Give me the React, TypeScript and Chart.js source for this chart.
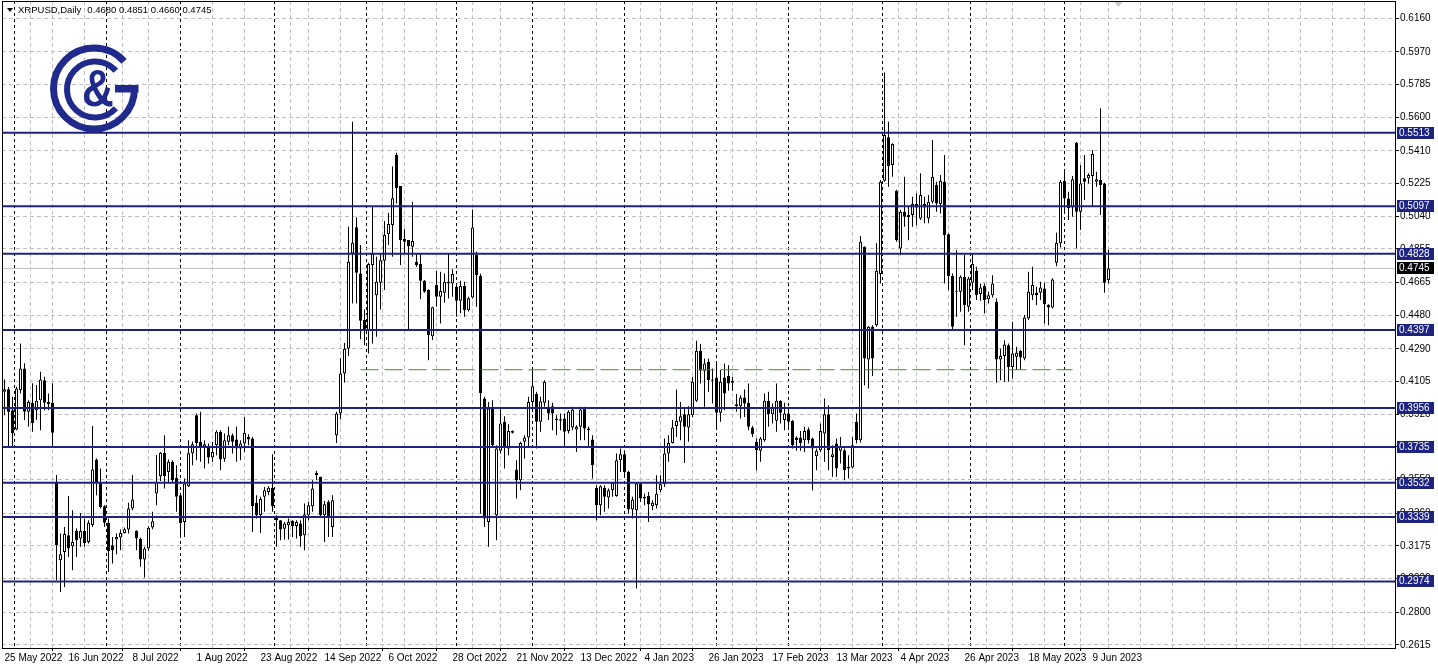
import React, { useEffect, useRef } from "react";
import { Chart, registerables } from "chart.js";

Chart.register(...registerables);

// ---------------- data (XRPUSD daily, weekday bars from 25 May 2022) ----------------
const START_DATE = "2022-05-25";

const OPEN = [
  0.4047, 0.4061, 0.3943, 0.3834, 0.4057, 0.4179, 0.3934, 0.3985, 0.3943, 0.4000,
  0.4113, 0.3990, 0.3985, 0.3538, 0.3094, 0.3141, 0.3236, 0.3174, 0.3260, 0.3217,
  0.3259, 0.3198, 0.3293, 0.3664, 0.3532, 0.3400, 0.3306, 0.3179, 0.3212, 0.3223,
  0.3249, 0.3268, 0.3387, 0.3259, 0.3215, 0.3098, 0.3161, 0.3279, 0.3472, 0.3570,
  0.3702, 0.3594, 0.3651, 0.3560, 0.3462, 0.3311, 0.3513, 0.3700, 0.3915, 0.3764,
  0.3736, 0.3736, 0.3675, 0.3745, 0.3821, 0.3668, 0.3764, 0.3802, 0.3777, 0.3726,
  0.3755, 0.3792, 0.3783, 0.3420, 0.3350, 0.3453, 0.3481, 0.3505, 0.3343, 0.3320,
  0.3273, 0.3292, 0.3317, 0.3288, 0.3302, 0.3236, 0.3349, 0.3400, 0.3588, 0.3566,
  0.3349, 0.3424, 0.3283, 0.3802, 0.3925, 0.4150, 0.4290, 0.4830, 0.4978, 0.4717,
  0.4453, 0.4396, 0.4764, 0.4594, 0.4664, 0.4788, 0.4939, 0.4991, 0.5387, 0.5211,
  0.4911, 0.4906, 0.4868, 0.4783, 0.4770, 0.4675, 0.4623, 0.4362, 0.4651, 0.4585,
  0.4607, 0.4670, 0.4660, 0.4641, 0.4562, 0.4645, 0.4509, 0.4581, 0.4821, 0.4702,
  0.4009, 0.3311, 0.3953, 0.3349, 0.3713, 0.3877, 0.3726, 0.3826, 0.3607, 0.3547,
  0.3764, 0.3788, 0.3990, 0.4034, 0.3877, 0.3985, 0.3962, 0.3966, 0.3896, 0.3892,
  0.3896, 0.3826, 0.3845, 0.3834, 0.3849, 0.3953, 0.3840, 0.3777, 0.3505, 0.3405,
  0.3505, 0.3449, 0.3490, 0.3457, 0.3660, 0.3694, 0.3594, 0.3381, 0.3377, 0.3528,
  0.3453, 0.3457, 0.3400, 0.3405, 0.3490, 0.3524, 0.3698, 0.3758, 0.3853, 0.3877,
  0.3920, 0.3845, 0.3915, 0.3996, 0.4279, 0.4166, 0.4217, 0.4117, 0.4128, 0.3928,
  0.4128, 0.4136, 0.4098, 0.3977, 0.3966, 0.4015, 0.3985, 0.3845, 0.3764, 0.3713,
  0.3773, 0.3996, 0.3920, 0.3883, 0.3996, 0.3887, 0.3924, 0.3883, 0.3788, 0.3788,
  0.3773, 0.3834, 0.3783, 0.3683, 0.3717, 0.3811, 0.3920, 0.3679, 0.3754, 0.3713,
  0.3717, 0.3613, 0.3619, 0.3877, 0.3773, 0.4868, 0.4230, 0.4415, 0.4424, 0.4713,
  0.5241, 0.5487, 0.5330, 0.5185, 0.4858, 0.5066, 0.5047, 0.5047, 0.5109, 0.5028,
  0.5109, 0.5028, 0.5122, 0.5217, 0.5109, 0.5236, 0.4939, 0.4702, 0.4613, 0.4613,
  0.4698, 0.4528, 0.4664, 0.4732, 0.4600, 0.4645, 0.4570, 0.4594, 0.4556, 0.4230,
  0.4249, 0.4311, 0.4188, 0.4245, 0.4279, 0.4236, 0.4462, 0.4594, 0.4607, 0.4607,
  0.4632, 0.4538, 0.4524, 0.4777, 0.4887, 0.5241, 0.5141, 0.5090, 0.5456, 0.5066,
  0.5255, 0.5255, 0.5268, 0.5236, 0.5245, 0.5226, 0.4680,
];

const HIGH = [
  0.4117, 0.4074, 0.4019, 0.4075, 0.4321, 0.4208, 0.4000, 0.4095, 0.4085, 0.4160,
  0.4132, 0.4038, 0.4095, 0.3576, 0.3245, 0.3283, 0.3457, 0.3377, 0.3274, 0.3362,
  0.3330, 0.3321, 0.3853, 0.3670, 0.3613, 0.3406, 0.3330, 0.3226, 0.3245, 0.3268,
  0.3279, 0.3419, 0.3576, 0.3264, 0.3223, 0.3170, 0.3287, 0.3368, 0.3689, 0.3707,
  0.3802, 0.3664, 0.3660, 0.3632, 0.3471, 0.3556, 0.3773, 0.3764, 0.3924, 0.3934,
  0.3773, 0.3755, 0.3764, 0.3830, 0.3830, 0.3811, 0.3849, 0.3811, 0.3849, 0.3773,
  0.3905, 0.3807, 0.3792, 0.3462, 0.3453, 0.3509, 0.3513, 0.3694, 0.3349, 0.3320,
  0.3311, 0.3330, 0.3320, 0.3320, 0.3320, 0.3415, 0.3424, 0.3547, 0.3600, 0.3566,
  0.3430, 0.3434, 0.3462, 0.3934, 0.4238, 0.4323, 0.4981, 0.5575, 0.5034, 0.4877,
  0.4513, 0.4777, 0.5094, 0.4811, 0.4830, 0.5013, 0.5060, 0.5321, 0.5400, 0.5211,
  0.4966, 0.4906, 0.5122, 0.4830, 0.4830, 0.4679, 0.4627, 0.4528, 0.4730, 0.4726,
  0.4717, 0.4830, 0.4740, 0.4660, 0.4675, 0.4670, 0.4585, 0.5079, 0.4839, 0.4715,
  0.4019, 0.3990, 0.4000, 0.3745, 0.3962, 0.3909, 0.3864, 0.3830, 0.3660, 0.3764,
  0.3802, 0.4019, 0.4179, 0.4047, 0.4019, 0.4113, 0.4000, 0.3985, 0.3915, 0.3924,
  0.3924, 0.3943, 0.3962, 0.3858, 0.3962, 0.3962, 0.3849, 0.3802, 0.3519, 0.3519,
  0.3519, 0.3500, 0.3537, 0.3698, 0.3726, 0.3717, 0.3600, 0.3453, 0.3537, 0.3537,
  0.3471, 0.3481, 0.3434, 0.3575, 0.3575, 0.3783, 0.3802, 0.3887, 0.4060, 0.3990,
  0.3953, 0.3966, 0.4132, 0.4336, 0.4317, 0.4236, 0.4236, 0.4179, 0.4222, 0.4170,
  0.4207, 0.4198, 0.4132, 0.4034, 0.4028, 0.4060, 0.4094, 0.3853, 0.3783, 0.3792,
  0.4037, 0.4047, 0.3981, 0.4094, 0.4000, 0.3985, 0.3943, 0.3887, 0.3796, 0.3826,
  0.3849, 0.3845, 0.3788, 0.3726, 0.3868, 0.4009, 0.3971, 0.3745, 0.3783, 0.3792,
  0.3726, 0.3688, 0.3792, 0.3924, 0.4928, 0.4870, 0.4420, 0.4424, 0.4887, 0.5245,
  0.5853, 0.5575, 0.5453, 0.5190, 0.5075, 0.5264, 0.5094, 0.5151, 0.5170, 0.5283,
  0.5151, 0.5160, 0.5471, 0.5236, 0.5273, 0.5387, 0.4943, 0.4717, 0.4849, 0.4707,
  0.4821, 0.4698, 0.4830, 0.4754, 0.4660, 0.4660, 0.4613, 0.4707, 0.4575, 0.4292,
  0.4339, 0.4320, 0.4443, 0.4302, 0.4283, 0.4481, 0.4726, 0.4755, 0.4641, 0.4670,
  0.4664, 0.4543, 0.4690, 0.4947, 0.5245, 0.5292, 0.5179, 0.5268, 0.5460, 0.5330,
  0.5387, 0.5283, 0.5415, 0.5292, 0.5651, 0.5230, 0.4851,
];

const LOW = [
  0.3915, 0.3736, 0.3736, 0.3830, 0.4038, 0.3887, 0.3849, 0.3821, 0.3887, 0.3830,
  0.3943, 0.3943, 0.3736, 0.2981, 0.2915, 0.2943, 0.3113, 0.3038, 0.3113, 0.3170,
  0.3170, 0.3189, 0.3283, 0.3462, 0.3387, 0.3283, 0.3028, 0.3076, 0.3128, 0.3151,
  0.3245, 0.3245, 0.3377, 0.3151, 0.3057, 0.2997, 0.3147, 0.3270, 0.3406, 0.3543,
  0.3500, 0.3528, 0.3537, 0.3368, 0.3236, 0.3226, 0.3509, 0.3632, 0.3660, 0.3651,
  0.3613, 0.3641, 0.3651, 0.3688, 0.3604, 0.3651, 0.3745, 0.3698, 0.3651, 0.3660,
  0.3707, 0.3745, 0.3254, 0.3330, 0.3249, 0.3368, 0.3462, 0.3368, 0.3170, 0.3207,
  0.3211, 0.3211, 0.3226, 0.3217, 0.3170, 0.3151, 0.3320, 0.3368, 0.3547, 0.3339,
  0.3198, 0.3226, 0.3226, 0.3757, 0.3890, 0.4100, 0.4250, 0.4547, 0.4547, 0.4344,
  0.4311, 0.4264, 0.4321, 0.4358, 0.4513, 0.4623, 0.4877, 0.4811, 0.5113, 0.4764,
  0.4830, 0.4396, 0.4811, 0.4754, 0.4570, 0.4607, 0.4226, 0.4340, 0.4528, 0.4434,
  0.4551, 0.4575, 0.4585, 0.4471, 0.4491, 0.4471, 0.4502, 0.4576, 0.4528, 0.3358,
  0.3283, 0.3170, 0.3736, 0.3207, 0.3698, 0.3613, 0.3688, 0.3811, 0.3443, 0.3490,
  0.3670, 0.3736, 0.3962, 0.3726, 0.3821, 0.3962, 0.3887, 0.3830, 0.3802, 0.3830,
  0.3736, 0.3811, 0.3830, 0.3707, 0.3773, 0.3773, 0.3736, 0.3556, 0.3321, 0.3349,
  0.3368, 0.3387, 0.3453, 0.3453, 0.3594, 0.3575, 0.3358, 0.3330, 0.2934, 0.3424,
  0.3405, 0.3311, 0.3377, 0.3387, 0.3480, 0.3509, 0.3651, 0.3754, 0.3792, 0.3773,
  0.3645, 0.3764, 0.3905, 0.3990, 0.4094, 0.3962, 0.4047, 0.3981, 0.3834, 0.3877,
  0.3943, 0.4053, 0.4053, 0.3934, 0.3896, 0.3905, 0.3830, 0.3792, 0.3603, 0.3651,
  0.3764, 0.3849, 0.3868, 0.3821, 0.3868, 0.3830, 0.3849, 0.3726, 0.3713, 0.3713,
  0.3707, 0.3754, 0.3490, 0.3603, 0.3707, 0.3651, 0.3603, 0.3566, 0.3566, 0.3641,
  0.3547, 0.3556, 0.3613, 0.3754, 0.3760, 0.4084, 0.4066, 0.4136, 0.4415, 0.4660,
  0.5236, 0.5207, 0.5264, 0.4896, 0.4820, 0.4981, 0.4905, 0.4981, 0.4990, 0.5019,
  0.5000, 0.5000, 0.5113, 0.5066, 0.5056, 0.4660, 0.4622, 0.4396, 0.4471, 0.4500,
  0.4311, 0.4500, 0.4622, 0.4566, 0.4562, 0.4490, 0.4547, 0.4581, 0.4098, 0.4113,
  0.4104, 0.4104, 0.4122, 0.4170, 0.4170, 0.4226, 0.4453, 0.4566, 0.4537, 0.4566,
  0.4434, 0.4424, 0.4519, 0.4758, 0.4864, 0.5056, 0.5019, 0.5038, 0.4858, 0.4962,
  0.5132, 0.5226, 0.5094, 0.5207, 0.5047, 0.4607, 0.4660,
];

const CLOSE = [
  0.4062, 0.3934, 0.3812, 0.4066, 0.4179, 0.3934, 0.3990, 0.3871, 0.3996, 0.4117,
  0.3985, 0.3977, 0.3815, 0.3179, 0.3128, 0.3242, 0.3161, 0.3198, 0.3208, 0.3259,
  0.3192, 0.3306, 0.3608, 0.3532, 0.3396, 0.3306, 0.3147, 0.3151, 0.3226, 0.3249,
  0.3270, 0.3387, 0.3438, 0.3217, 0.3098, 0.3161, 0.3277, 0.3315, 0.3538, 0.3702,
  0.3570, 0.3651, 0.3547, 0.3453, 0.3305, 0.3528, 0.3700, 0.3750, 0.3758, 0.3739,
  0.3750, 0.3675, 0.3707, 0.3821, 0.3664, 0.3773, 0.3802, 0.3764, 0.3726, 0.3755,
  0.3815, 0.3777, 0.3400, 0.3350, 0.3440, 0.3490, 0.3505, 0.3400, 0.3320, 0.3268,
  0.3302, 0.3311, 0.3288, 0.3311, 0.3230, 0.3353, 0.3405, 0.3500, 0.3575, 0.3349,
  0.3411, 0.3339, 0.3434, 0.3925, 0.4150, 0.4290, 0.4783, 0.4891, 0.4721, 0.4449,
  0.4396, 0.4770, 0.4826, 0.4670, 0.4792, 0.4934, 0.4996, 0.5142, 0.5198, 0.4906,
  0.4896, 0.4872, 0.4900, 0.4764, 0.4675, 0.4613, 0.4368, 0.4525, 0.4585, 0.4617,
  0.4670, 0.4660, 0.4713, 0.4562, 0.4645, 0.4509, 0.4576, 0.4977, 0.4707, 0.4041,
  0.3330, 0.3953, 0.3745, 0.3726, 0.3868, 0.3736, 0.3826, 0.3815, 0.3547, 0.3758,
  0.3788, 0.3990, 0.4079, 0.3877, 0.3994, 0.4104, 0.3924, 0.3924, 0.3887, 0.3883,
  0.3821, 0.3934, 0.3947, 0.3849, 0.3947, 0.3840, 0.3830, 0.3632, 0.3405, 0.3513,
  0.3453, 0.3490, 0.3532, 0.3660, 0.3694, 0.3594, 0.3381, 0.3438, 0.3528, 0.3443,
  0.3443, 0.3411, 0.3419, 0.3471, 0.3524, 0.3698, 0.3758, 0.3845, 0.3883, 0.3909,
  0.3849, 0.3920, 0.4104, 0.4279, 0.4166, 0.4207, 0.4113, 0.4109, 0.3928, 0.4104,
  0.4037, 0.4094, 0.4109, 0.3966, 0.4015, 0.3981, 0.3849, 0.3807, 0.3717, 0.3783,
  0.3996, 0.3920, 0.3958, 0.3996, 0.3928, 0.3924, 0.3877, 0.3745, 0.3773, 0.3758,
  0.3826, 0.3773, 0.3726, 0.3713, 0.3826, 0.3920, 0.3717, 0.3694, 0.3613, 0.3739,
  0.3603, 0.3622, 0.3745, 0.3773, 0.4896, 0.4236, 0.4415, 0.4236, 0.4732, 0.5236,
  0.5500, 0.5324, 0.5449, 0.4905, 0.5066, 0.5038, 0.5034, 0.5109, 0.5090, 0.5160,
  0.5090, 0.5122, 0.5264, 0.5113, 0.5241, 0.4934, 0.4702, 0.4415, 0.4619, 0.4698,
  0.4538, 0.4688, 0.4770, 0.4594, 0.4637, 0.4566, 0.4594, 0.4660, 0.4230, 0.4249,
  0.4315, 0.4188, 0.4264, 0.4268, 0.4241, 0.4468, 0.4613, 0.4651, 0.4594, 0.4637,
  0.4543, 0.4524, 0.4683, 0.4890, 0.5236, 0.5141, 0.5085, 0.5249, 0.5066, 0.5226,
  0.5236, 0.5273, 0.5392, 0.5249, 0.5217, 0.4664, 0.4745,
];

// date tick labels (every 16 bars)
const DATE_LABELS = [
  "25 May 2022", "16 Jun 2022", "8 Jul 2022", "1 Aug 2022", "23 Aug 2022", "14 Sep 2022",
  "6 Oct 2022", "28 Oct 2022", "21 Nov 2022", "13 Dec 2022", "4 Jan 2023", "26 Jan 2023",
  "17 Feb 2023", "13 Mar 2023", "4 Apr 2023", "26 Apr 2023", "18 May 2023", "9 Jun 2023",
];
const LABEL_STEP = 16;
const GRID_STEP = 8;

// price axis tick labels
const Y_TICKS = [
  0.6160, 0.5970, 0.5785, 0.5600, 0.5410, 0.5225, 0.5040, 0.4855, 0.4665, 0.4480,
  0.4290, 0.4105, 0.3920, 0.3735, 0.3550, 0.3360, 0.3175, 0.2990, 0.2800, 0.2615,
];

// horizontal support / resistance levels
const LEVELS = [0.5513, 0.5097, 0.4828, 0.4397, 0.3956, 0.3735, 0.3532, 0.3339, 0.2974];
const CURRENT_PRICE = 0.4745;
const SUPPORT_VALUE = 0.4172;
const SUPPORT_FROM_BAR = 89;
const SUPPORT_TO_BAR = 267;

const SYMBOL_TITLE = "XRPUSD,Daily";
const TITLE_VALUES = "0.4680 0.4851 0.4660 0.4745";

// axis ranges
const Y_MIN = 0.25978;
const Y_MAX = 0.62579;
const X_MIN = -0.625;
const X_MAX = 347.625;

// ---------------- styles ----------------
const FONT = "'Liberation Sans', Arial, sans-serif";
const NAVY = "#1c2380";
const LOGO = "#1f2a8c";
const GRID = "#c0c0c0";
const GREEN = "#3f9412";

function weekdayDates(start: string, n: number): Date[] {
  const out: Date[] = [];
  const d = new Date(start + "T00:00:00Z");
  while (out.length < n) {
    const wd = d.getUTCDay();
    if (wd !== 0 && wd !== 6) out.push(new Date(d.getTime()));
    d.setUTCDate(d.getUTCDate() + 1);
  }
  return out;
}

const BAR_DATES = weekdayDates(START_DATE, OPEN.length);
const MONTH_STARTS: number[] = [];
for (let i = 1; i < BAR_DATES.length; i++) {
  if (BAR_DATES[i].getUTCMonth() !== BAR_DATES[i - 1].getUTCMonth()) MONTH_STARTS.push(i);
}
const MONTH_SET = new Set(MONTH_STARTS);
const GRID_TICKS: number[] = [];
for (let v = 0; v <= X_MAX; v += GRID_STEP) GRID_TICKS.push(v);
const X_TICKS = Array.from(new Set([...GRID_TICKS, ...MONTH_STARTS])).sort((a, b) => a - b);

function isLabelTick(v: number) {
  return v % LABEL_STEP === 0 && v / LABEL_STEP < DATE_LABELS.length;
}

const decorPlugin = {
  id: "decor",
  afterDraw(chart: any) {
    const { ctx, chartArea: ca, scales } = chart;
    const ys = scales.y;
    const xs = scales.x;
    ctx.save();
    ctx.setLineDash([]);

    // frame
    ctx.strokeStyle = "#000";
    ctx.lineWidth = 1;
    ctx.strokeRect(ca.left + 0.5, ca.top + 0.5, ca.right - ca.left, ca.bottom - ca.top);

    // header
    ctx.fillStyle = "#000";
    ctx.beginPath();
    ctx.moveTo(7, 8);
    ctx.lineTo(13, 8);
    ctx.lineTo(10, 12);
    ctx.closePath();
    ctx.fill();
    ctx.font = `9.5px ${FONT}`;
    ctx.textBaseline = "middle";
    ctx.textAlign = "left";
    ctx.fillText(SYMBOL_TITLE, 18, 10.5);
    const tw = ctx.measureText(SYMBOL_TITLE).width;
    ctx.fillText(TITLE_VALUES, Math.max(86, 18 + tw + 6), 10.5);

    // chart shift marker
    const sx = xs.getPixelForValue(OPEN.length + 1.5);
    ctx.fillStyle = "#c8c8c8";
    ctx.beginPath();
    ctx.moveTo(sx - 4, ca.top + 1);
    ctx.lineTo(sx + 4, ca.top + 1);
    ctx.lineTo(sx, ca.top + 6);
    ctx.closePath();
    ctx.fill();

    // logo
    const cx = 94, cy = 88.5;
    ctx.strokeStyle = LOGO;
    ctx.fillStyle = LOGO;
    ctx.lineCap = "butt";
    ctx.lineWidth = 7;
    ctx.beginPath();
    ctx.arc(cx, cy, 40.5, 0, (318 / 180) * Math.PI);
    ctx.stroke();
    ctx.fillRect(115, 85, 23.5, 7.5);
    ctx.lineWidth = 6;
    ctx.beginPath();
    ctx.arc(cx + 1, cy + 1, 28, (42 / 180) * Math.PI, (318 / 180) * Math.PI);
    ctx.stroke();
    ctx.save();
    ctx.translate(cx + 4, cy + 3);
    ctx.scale(1, 1.18);
    ctx.font = `bold 44px ${FONT}`;
    ctx.textAlign = "center";
    ctx.textBaseline = "middle";
    ctx.fillText("&", 0, 0);
    ctx.restore();

    // price boxes on the axis
    ctx.font = `10px ${FONT}`;
    ctx.textAlign = "left";
    ctx.textBaseline = "middle";
    const box = (v: number, bg: string) => {
      const y = Math.round(ys.getPixelForValue(v));
      ctx.fillStyle = bg;
      ctx.fillRect(ys.left + 2, y - 6, 37, 12);
      ctx.fillStyle = "#fff";
      ctx.fillText(v.toFixed(4), ys.left + 4, y + 0.5);
    };
    LEVELS.forEach((v) => box(v, NAVY));
    box(CURRENT_PRICE, "#000");
    ctx.restore();
  },
};

export default function App() {
  const ref = useRef<HTMLCanvasElement>(null);

  useEffect(() => {
    const canvas = ref.current;
    if (!canvas) return;

    const bodies = OPEN.map((o, i) => ({ x: i, y: [o, CLOSE[i]] }));
    const wicks = OPEN.map((o, i) => ({
      x: i,
      y: [Math.min(LOW[i], o, CLOSE[i]), Math.max(HIGH[i], o, CLOSE[i])],
    }));
    const bodyColors = OPEN.map((o, i) => (CLOSE[i] >= o ? "#ffffff" : "#000000"));

    const levelSets = LEVELS.map((v) => ({
      type: "line",
      data: [{ x: X_MIN, y: v }, { x: X_MAX, y: v }],
      borderColor: NAVY,
      borderWidth: 2,
      pointRadius: 0,
      order: 0,
    }));

    const chart = new Chart(canvas, {
      type: "bar",
      data: {
        datasets: [
          ...levelSets,
          {
            type: "line",
            data: [{ x: SUPPORT_FROM_BAR, y: SUPPORT_VALUE }, { x: SUPPORT_TO_BAR, y: SUPPORT_VALUE }],
            borderColor: GREEN,
            borderWidth: 1,
            borderDash: [18, 6],
            pointRadius: 0,
            order: 0,
          },
          {
            type: "bar",
            data: bodies,
            backgroundColor: bodyColors,
            borderColor: "#000",
            borderWidth: 1,
            borderSkipped: false,
            barThickness: 3,
            minBarLength: 1,
            inflateAmount: 0,
            grouped: false,
            order: 1,
          },
          {
            type: "bar",
            data: wicks,
            backgroundColor: "#000",
            borderWidth: 0,
            barThickness: 1,
            inflateAmount: 0,
            grouped: false,
            order: 2,
          },
          {
            type: "line",
            data: [{ x: X_MIN, y: CURRENT_PRICE }, { x: X_MAX, y: CURRENT_PRICE }],
            borderColor: "#c0c0c0",
            borderWidth: 1,
            pointRadius: 0,
            order: 3,
          },
        ] as any,
      },
      options: {
        animation: false,
        responsive: false,
        maintainAspectRatio: false,
        devicePixelRatio: 1,
        events: [],
        layout: { padding: { left: 2, top: 1, right: 0, bottom: 0 } },
        plugins: { legend: { display: false }, tooltip: { enabled: false }, title: { display: false } },
        scales: {
          x: {
            type: "linear",
            position: "bottom",
            min: X_MIN,
            max: X_MAX,
            offset: false,
            grid: {
              color: (c: any) => (MONTH_SET.has(c.tick?.value) ? "#000" : GRID),
              lineWidth: 1,
              drawTicks: true,
              tickLength: 3,
              tickWidth: 1,
              tickBorderDash: [],
              tickColor: (c: any) => (c.tick && isLabelTick(c.tick.value) ? "#000" : "rgba(0,0,0,0)"),
            },
            border: {
              display: false,
              dash: (c: any) => (MONTH_SET.has(c.tick?.value) ? [3, 3] : [4, 3]),
            },
            ticks: {
              autoSkip: false,
              maxRotation: 0,
              minRotation: 0,
              align: "start",
              padding: 1,
              color: "#000",
              font: { family: FONT, size: 10 },
              callback: (value: any) => {
                const v = Number(value);
                return isLabelTick(v) ? DATE_LABELS[v / LABEL_STEP] : "";
              },
            },
            afterBuildTicks: (s: any) => {
              s.ticks = X_TICKS.map((v) => ({ value: v }));
            },
            afterFit: (s: any) => {
              s.height = 21;
              s.paddingLeft = 0;
              s.paddingRight = 0;
            },
          },
          y: {
            type: "linear",
            position: "right",
            min: Y_MIN,
            max: Y_MAX,
            grid: {
              color: GRID,
              lineWidth: 1,
              drawTicks: true,
              tickLength: 4,
              tickColor: "#000",
              tickBorderDash: [],
            },
            border: { display: false, dash: [4, 3] },
            ticks: {
              autoSkip: false,
              padding: 1,
              color: "#000",
              font: { family: FONT, size: 10 },
              callback: (value: any) => Number(value).toFixed(4),
            },
            afterBuildTicks: (s: any) => {
              s.ticks = Y_TICKS.map((v) => ({ value: v }));
            },
            afterFit: (s: any) => {
              s.width = 43;
              s.paddingTop = 0;
              s.paddingBottom = 0;
            },
          },
        },
      } as any,
      plugins: [decorPlugin as any],
    });

    return () => chart.destroy();
  }, []);

  return (
    <div style={{ position: "fixed", left: 0, top: 0, width: 1438, height: 669, background: "#fff" }}>
      <canvas ref={ref} width={1438} height={669} style={{ display: "block", width: 1438, height: 669 }} />
    </div>
  );
}
